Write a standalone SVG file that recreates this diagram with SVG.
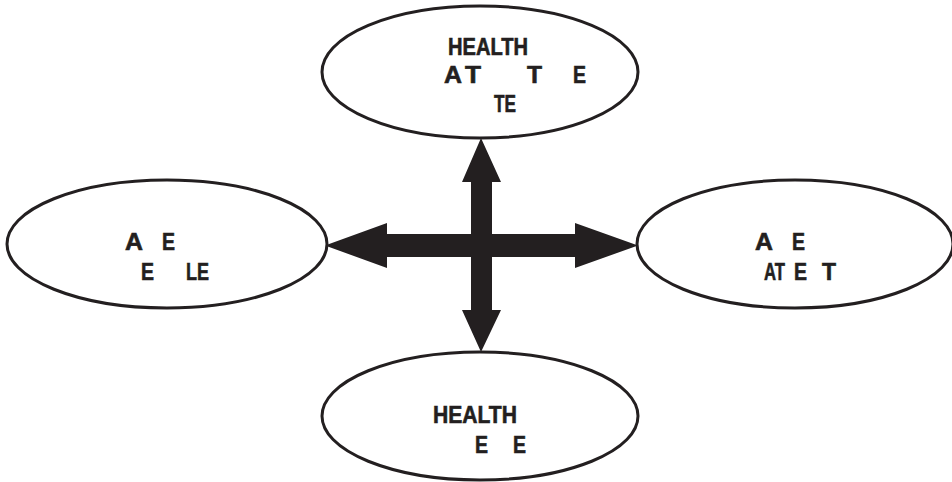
<svg xmlns="http://www.w3.org/2000/svg" width="952" height="482" viewBox="0 0 952 482">
  <style>
    .node ellipse { fill: #ffffff; stroke: #231f20; stroke-width: 3; }
    .node text { font-family: "Liberation Sans", Arial, sans-serif; font-weight: bold; font-size: 23.5px; fill: #231f20; stroke: #231f20; stroke-width: 0.6; }
    .arrow { fill: #231f20; stroke: none; }
  </style>
  <rect width="952" height="482" fill="#ffffff"/>

  <!-- four-way double arrow between the nodes -->
  <g id="connectors">
    <polygon class="arrow" points="471,246 471,182 462,182 481,138 501,182 492,182 492,246"/>
    <polygon class="arrow" points="471,245 471,310 462,310 481,352 501,310 492,310 492,245"/>
    <polygon class="arrow" points="482,234 387,234 387,223 325,245.5 387,268 387,257 482,257"/>
    <polygon class="arrow" points="480,234 575,234 575,223 638,245.5 575,268 575,257 480,257"/>
  </g>

  <g id="node-top" class="node">
    <ellipse cx="480" cy="72" rx="158" ry="66"/>
    <text x="448" y="55" textLength="80" lengthAdjust="spacingAndGlyphs">HEALTH</text>
    <text y="83"><tspan x="444" textLength="18" lengthAdjust="spacingAndGlyphs">A</tspan><tspan x="465" textLength="16" lengthAdjust="spacingAndGlyphs">T</tspan><tspan x="527" textLength="15" lengthAdjust="spacingAndGlyphs">T</tspan><tspan x="573" textLength="13" lengthAdjust="spacingAndGlyphs">E</tspan></text>
    <text x="494" y="112" textLength="22" lengthAdjust="spacingAndGlyphs">TE</text>
  </g>

  <g id="node-left" class="node">
    <ellipse cx="167" cy="244" rx="160" ry="64"/>
    <text y="250"><tspan x="125" textLength="18" lengthAdjust="spacingAndGlyphs">A</tspan><tspan x="162" textLength="13" lengthAdjust="spacingAndGlyphs">E</tspan></text>
    <text y="280"><tspan x="141" textLength="13" lengthAdjust="spacingAndGlyphs">E</tspan><tspan x="186" textLength="23" lengthAdjust="spacingAndGlyphs">LE</tspan></text>
  </g>

  <g id="node-right" class="node">
    <ellipse cx="795" cy="244" rx="158" ry="64"/>
    <text y="250"><tspan x="755" textLength="18" lengthAdjust="spacingAndGlyphs">A</tspan><tspan x="792" textLength="13" lengthAdjust="spacingAndGlyphs">E</tspan></text>
    <text y="280"><tspan x="764" textLength="21" lengthAdjust="spacingAndGlyphs">AT</tspan><tspan x="794" textLength="13" lengthAdjust="spacingAndGlyphs">E</tspan><tspan x="822" textLength="14" lengthAdjust="spacingAndGlyphs">T</tspan></text>
  </g>

  <g id="node-bottom" class="node">
    <ellipse cx="480" cy="416" rx="158" ry="64"/>
    <text x="433" y="423" textLength="84" lengthAdjust="spacingAndGlyphs">HEALTH</text>
    <text y="453"><tspan x="475" textLength="13" lengthAdjust="spacingAndGlyphs">E</tspan><tspan x="513" textLength="13" lengthAdjust="spacingAndGlyphs">E</tspan></text>
  </g>
</svg>
